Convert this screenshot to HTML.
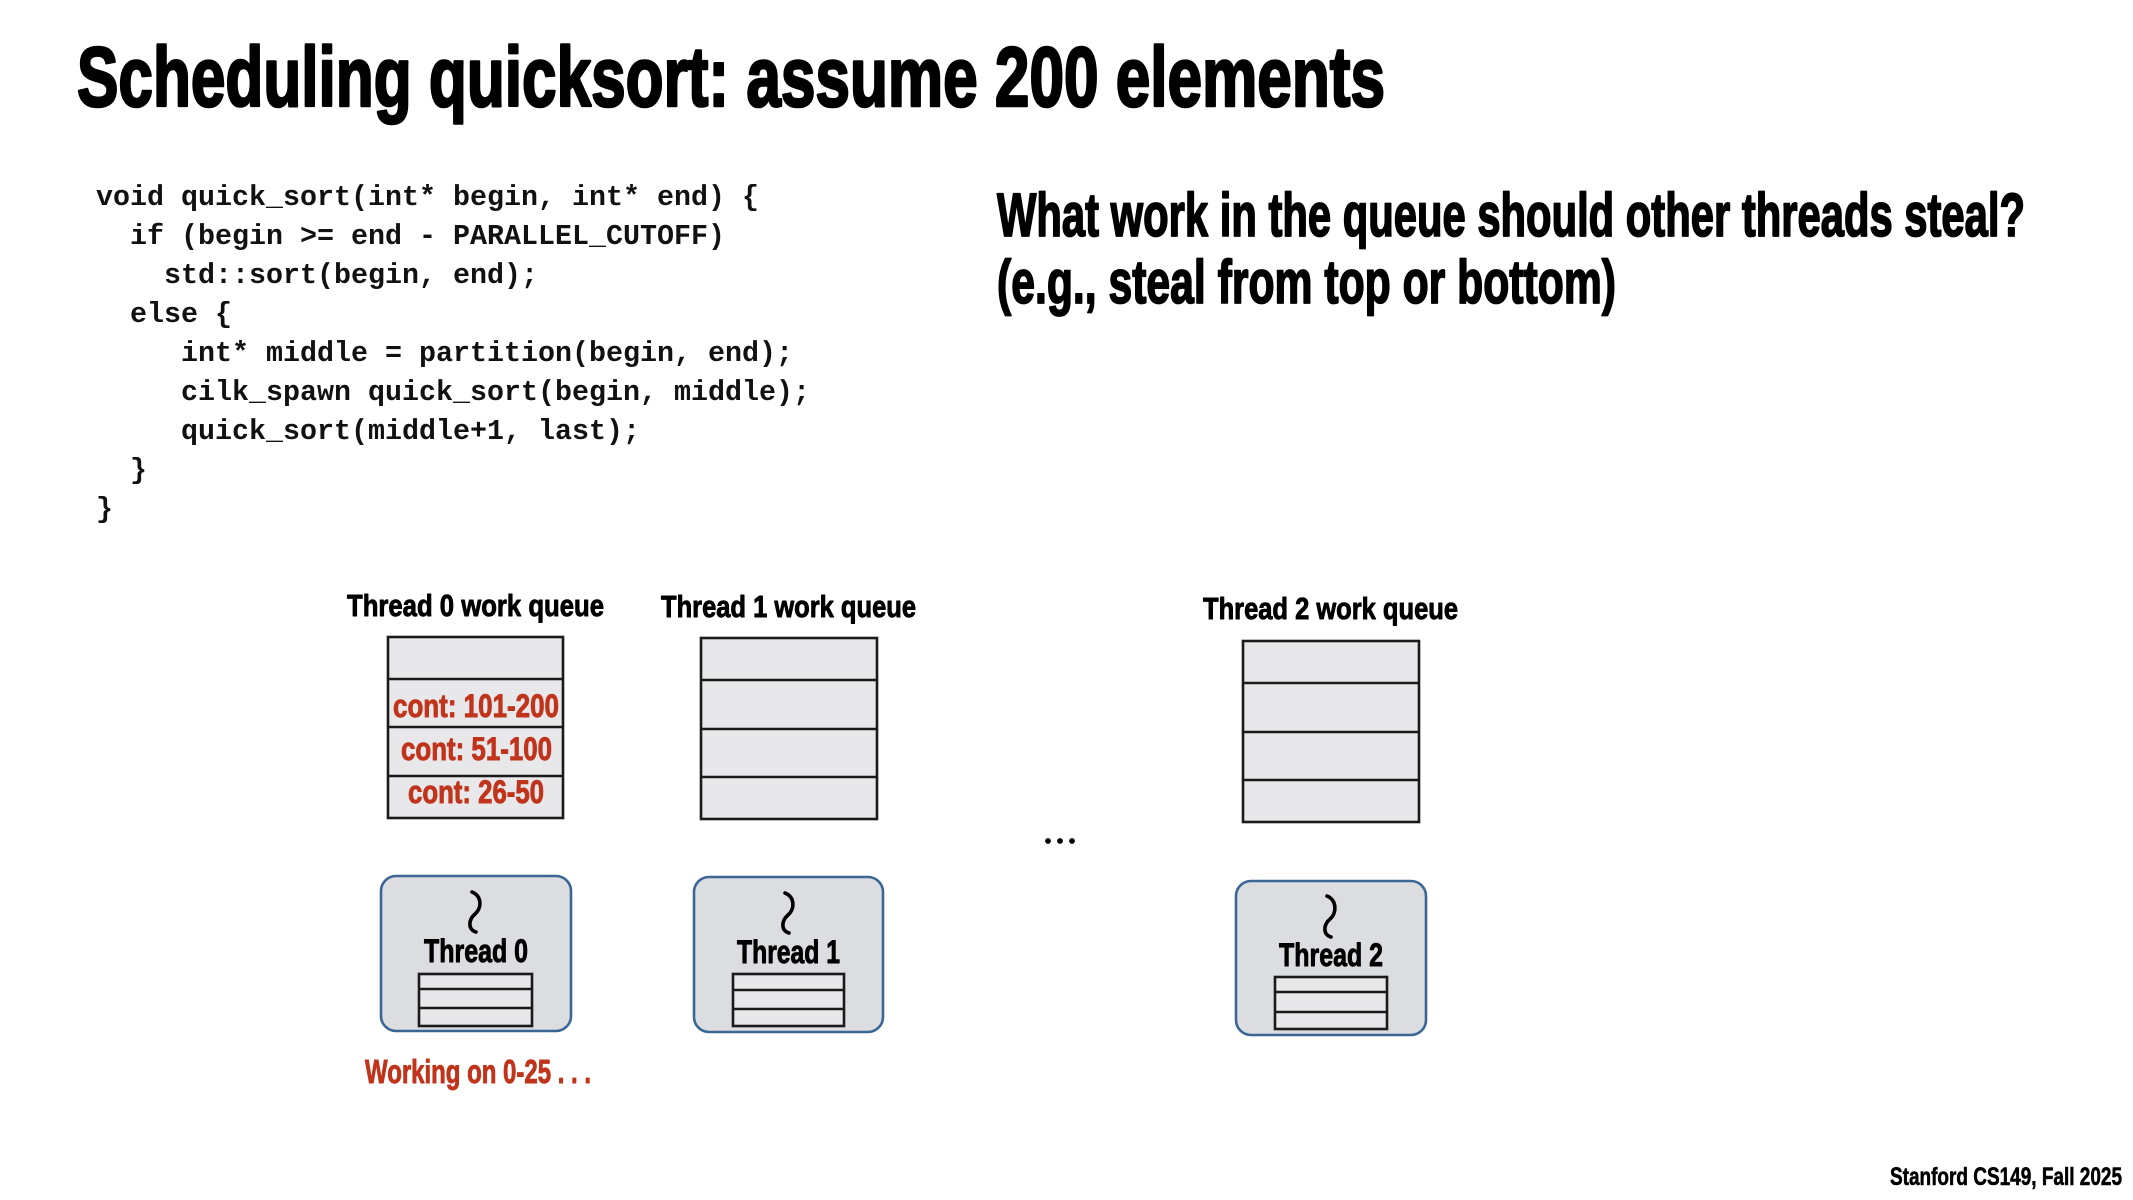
<!DOCTYPE html>
<html>
<head>
<meta charset="utf-8">
<style>
  html, body { margin:0; padding:0; background:#ffffff; }
  body { width:2133px; height:1200px; overflow:hidden; }
  svg { display:block; }
  .t { font-family:"Liberation Sans", sans-serif; font-weight:bold; fill:#000; stroke:#000; stroke-linejoin:round; }
  .red { fill:#c1341c; stroke:#c1341c; }
  .code { font-family:"Liberation Mono", monospace; font-weight:bold; font-size:28.3px; fill:#111; }
</style>
</head>
<body>
<svg width="2133" height="1200" viewBox="0 0 2133 1200" xmlns="http://www.w3.org/2000/svg">
  <rect x="0" y="0" width="2133" height="1200" fill="#ffffff"/>

  <!-- Title -->
  <text class="t" x="77" y="106" font-size="84" stroke-width="2.6" textLength="1308" lengthAdjust="spacingAndGlyphs">Scheduling quicksort: assume 200 elements</text>

  <!-- Code -->
  <text class="code" x="96" y="205" textLength="663" lengthAdjust="spacingAndGlyphs">void quick_sort(int* begin, int* end) {</text>
  <text class="code" x="130" y="244" textLength="595" lengthAdjust="spacingAndGlyphs">if (begin &gt;= end - PARALLEL_CUTOFF)</text>
  <text class="code" x="164" y="283" textLength="374" lengthAdjust="spacingAndGlyphs">std::sort(begin, end);</text>
  <text class="code" x="130" y="322" textLength="102" lengthAdjust="spacingAndGlyphs">else {</text>
  <text class="code" x="181" y="361" textLength="612" lengthAdjust="spacingAndGlyphs">int* middle = partition(begin, end);</text>
  <text class="code" x="181" y="400" textLength="629" lengthAdjust="spacingAndGlyphs">cilk_spawn quick_sort(begin, middle);</text>
  <text class="code" x="181" y="439" textLength="459" lengthAdjust="spacingAndGlyphs">quick_sort(middle+1, last);</text>
  <text class="code" x="130" y="478">}</text>
  <text class="code" x="96" y="517">}</text>

  <!-- Right heading -->
  <text class="t" x="997" y="236" font-size="61" stroke-width="1.8" textLength="1028" lengthAdjust="spacingAndGlyphs">What work in the queue should other threads steal?</text>
  <text class="t" x="997" y="303" font-size="61" stroke-width="1.8" textLength="619" lengthAdjust="spacingAndGlyphs">(e.g., steal from top or bottom)</text>

  <!-- Queue labels -->
  <text class="t" x="347" y="616" font-size="30.5" stroke-width="0.9" textLength="257" lengthAdjust="spacingAndGlyphs">Thread 0 work queue</text>
  <text class="t" x="661" y="617" font-size="30.5" stroke-width="0.9" textLength="255" lengthAdjust="spacingAndGlyphs">Thread 1 work queue</text>
  <text class="t" x="1203" y="619" font-size="30.5" stroke-width="0.9" textLength="255" lengthAdjust="spacingAndGlyphs">Thread 2 work queue</text>

  <!-- Queue 0 -->
  <g stroke="#1a1a1a" stroke-width="2.6" fill="#e8e8ea">
    <rect x="388" y="637" width="175" height="181"/>
    <line x1="388" y1="679" x2="563" y2="679"/>
    <line x1="388" y1="727" x2="563" y2="727"/>
    <line x1="388" y1="776" x2="563" y2="776"/>
  </g>
  <text class="t red" x="393" y="717" font-size="32" stroke-width="0.9" textLength="166" lengthAdjust="spacingAndGlyphs">cont: 101-200</text>
  <text class="t red" x="401" y="760" font-size="32" stroke-width="0.9" textLength="151" lengthAdjust="spacingAndGlyphs">cont: 51-100</text>
  <text class="t red" x="408" y="803" font-size="32" stroke-width="0.9" textLength="136" lengthAdjust="spacingAndGlyphs">cont: 26-50</text>

  <!-- Queue 1 -->
  <g stroke="#1a1a1a" stroke-width="2.6" fill="#e8e8ea">
    <rect x="701" y="638" width="176" height="181"/>
    <line x1="701" y1="680" x2="877" y2="680"/>
    <line x1="701" y1="729" x2="877" y2="729"/>
    <line x1="701" y1="777" x2="877" y2="777"/>
  </g>

  <!-- Queue 2 -->
  <g stroke="#1a1a1a" stroke-width="2.6" fill="#e8e8ea">
    <rect x="1243" y="641" width="176" height="181"/>
    <line x1="1243" y1="683" x2="1419" y2="683"/>
    <line x1="1243" y1="732" x2="1419" y2="732"/>
    <line x1="1243" y1="780" x2="1419" y2="780"/>
  </g>

  <!-- Ellipsis -->
  <g fill="#000">
    <circle cx="1048" cy="841" r="2.9"/>
    <circle cx="1060" cy="841" r="2.9"/>
    <circle cx="1072" cy="841" r="2.9"/>
  </g>

  <!-- Thread 0 box -->
  <rect x="381" y="876" width="190" height="155" rx="15" ry="15" fill="#dcdde0" stroke="#3a6796" stroke-width="2.6"/>
  <path d="M 472 892 C 482 896, 482 908, 475 914 C 468 920, 468 930, 476 932" fill="none" stroke="#000" stroke-width="3.6" stroke-linecap="round"/>
  <text class="t" x="424" y="962" font-size="32" stroke-width="0.9" textLength="104" lengthAdjust="spacingAndGlyphs">Thread 0</text>
  <g stroke="#1a1a1a" stroke-width="2.6" fill="#e8e8ea">
    <rect x="419" y="974" width="113" height="52"/>
    <line x1="419" y1="989" x2="532" y2="989"/>
    <line x1="419" y1="1008" x2="532" y2="1008"/>
  </g>
  <text class="t red" x="365" y="1083" font-size="33" stroke-width="0.9" textLength="226" lengthAdjust="spacingAndGlyphs">Working on 0-25 . . .</text>

  <!-- Thread 1 box -->
  <rect x="694" y="877" width="189" height="155" rx="15" ry="15" fill="#dcdde0" stroke="#3a6796" stroke-width="2.6"/>
  <path d="M 785 893 C 795 897, 795 909, 788 915 C 781 921, 781 931, 789 933" fill="none" stroke="#000" stroke-width="3.6" stroke-linecap="round"/>
  <text class="t" x="737" y="963" font-size="32" stroke-width="0.9" textLength="103" lengthAdjust="spacingAndGlyphs">Thread 1</text>
  <g stroke="#1a1a1a" stroke-width="2.6" fill="#e8e8ea">
    <rect x="733" y="974" width="111" height="52"/>
    <line x1="733" y1="990" x2="844" y2="990"/>
    <line x1="733" y1="1009" x2="844" y2="1009"/>
  </g>

  <!-- Thread 2 box -->
  <rect x="1236" y="881" width="190" height="154" rx="15" ry="15" fill="#dcdde0" stroke="#3a6796" stroke-width="2.6"/>
  <path d="M 1327 896 C 1337 900, 1337 913, 1330 919 C 1323 925, 1323 935, 1331 937" fill="none" stroke="#000" stroke-width="3.6" stroke-linecap="round"/>
  <text class="t" x="1279" y="966" font-size="32" stroke-width="0.9" textLength="104" lengthAdjust="spacingAndGlyphs">Thread 2</text>
  <g stroke="#1a1a1a" stroke-width="2.6" fill="#e8e8ea">
    <rect x="1275" y="977" width="112" height="52"/>
    <line x1="1275" y1="992" x2="1387" y2="992"/>
    <line x1="1275" y1="1012" x2="1387" y2="1012"/>
  </g>

  <!-- Footer -->
  <text class="t" x="1890" y="1185" font-size="25" stroke-width="0.6" textLength="232" lengthAdjust="spacingAndGlyphs">Stanford CS149, Fall 2025</text>
</svg>
</body>
</html>
